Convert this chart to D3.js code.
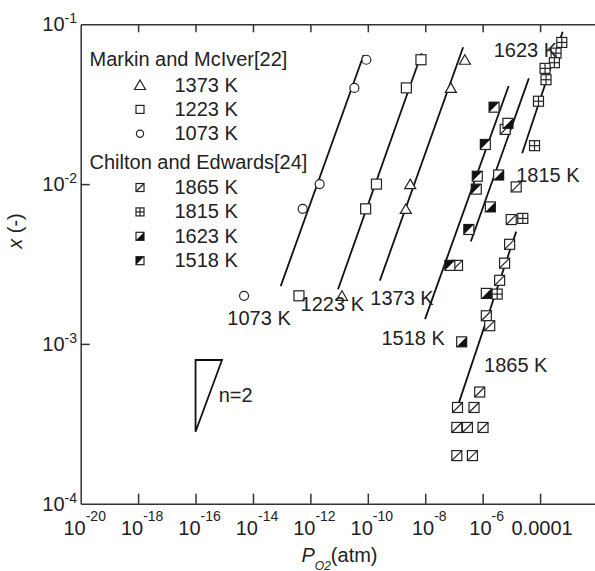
<!DOCTYPE html>
<meta charset="utf-8">
<body style="margin:0;background:#fff">
<style>
text { font-family: "Liberation Sans", Arial, sans-serif; fill: #222; }
.axis path, .axis line { stroke: #333; stroke-width: 1.5px; }
.fit { fill: none; stroke: #111; stroke-width: 1.8px; }
.mk { fill: #fff; stroke: #222; stroke-width: 1.2px; }
</style>
<script src="https://cdn.jsdelivr.net/npm/d3@7"></script>
<script>

// Markin and McIver [22]  -> [P_O2 (atm), x]
var mm1373 = [[2.4e-7, 0.06], [7.8e-8, 0.04], [3.0e-9, 0.01], [2.1e-9, 0.007], [1.26e-11, 0.002]];
var mm1223 = [[7.1e-9, 0.06], [2.2e-9, 0.04], [2.0e-10, 0.01], [8.4e-11, 0.007], [4.0e-13, 0.002]];
var mm1073 = [[8.9e-11, 0.06], [3.4e-11, 0.04], [2.1e-12, 0.01], [5.4e-13, 0.007], [4.9e-15, 0.002]];

// Chilton and Edwards [24]
var ce1865 = [[1.47e-5, 0.0096], [9.9e-6, 0.006], [8.7e-6, 0.0042], [5.8e-6, 0.0032], [3.9e-6, 0.0025],
              [1.34e-6, 0.0015], [1.76e-6, 0.0013], [7.9e-7, 0.0005], [1.33e-7, 0.0004], [5.0e-7, 0.0004],
              [1.26e-7, 0.0003], [2.95e-7, 0.0003], [1.03e-6, 0.0003], [1.26e-7, 0.0002], [4.4e-7, 0.0002],
              [1.33e-7, 0.0031], [6.1e-6, 0.022]];
var ce1815 = [[5.7e-4, 0.077], [3.6e-4, 0.066], [3.15e-4, 0.0575], [1.49e-4, 0.053], [1.61e-4, 0.045],
              [8.8e-5, 0.033], [6.4e-5, 0.0174], [2.5e-5, 0.0061], [3.2e-6, 0.00205]];
var ce1623 = [[7.6e-6, 0.024], [3.6e-6, 0.0114], [1.85e-6, 0.0072], [1.34e-6, 0.00207], [1.86e-7, 0.00103]];
var ce1518 = [[2.5e-6, 0.0303], [1.24e-6, 0.0177], [6.5e-7, 0.0112], [6.0e-7, 0.0093], [3.3e-7, 0.0052],
              [7.2e-8, 0.0031]];

// fitted lines (end points)
var fit1073 = [[9.27e-14, 2.30e-3], [7.14e-11, 0.0643]];
var fit1223 = [[9.2e-12, 2.2e-3], [7.5e-9, 0.0659]];
var fit1373 = [[2.63e-10, 2.49e-3], [2.09e-7, 0.0718]];
var fit1518 = [[9.84e-9, 1.43e-3], [8.04e-6, 0.0411]];
var fit1623 = [[3.87e-7, 4.37e-3], [4.06e-5, 0.0459]];
var fit1815 = [[2.38e-5, 0.0156], [6.12e-4, 0.0899]];
var fit1865 = [[1.17e-7, 3.77e-4], [1.47e-5, 5.04e-3]];

// line labels [text, P, x]
var lineLabels = [["1073 K", 1.28e-15, 1.31e-3], ["1223 K", 4.57e-13, 1.61e-3], ["1373 K", 1.22e-10, 1.75e-3],
                  ["1518 K", 3.0e-10, 9.84e-4], ["1865 K", 1.12e-6, 6.7e-4], ["1623 K", 2.43e-6, 0.0627],
                  ["1815 K", 1.47e-5, 0.01035]];

// slope triangle n=2
var slopeTri = [[1e-16, 7.93e-4], [8.36e-16, 7.93e-4], [1e-16, 2.82e-4]];
var slopeLabel = ["n=2", 6.37e-16, 4.35e-4];

var xTicks = [1e-20, 1e-18, 1e-16, 1e-14, 1e-12, 1e-10, 1e-8, 1e-6, 1e-4];
var yTicks = [1e-4, 1e-3, 1e-2, 1e-1];

var W = 595, H = 571;
var svg = d3.select("body").append("svg")
    .attr("width", W)
    .attr("height", H);

var x = d3.scaleLog().domain([1e-20, 1e-2]).range([80.7, 597.5]);
var y = d3.scaleLog().domain([1e-4, 1e-1]).range([503.7, 24.3]);

// axes (ticks inward)
svg.append("g").attr("class", "axis")
    .attr("transform", "translate(0," + y(1e-4) + ")")
    .call(d3.axisBottom(x).tickValues(xTicks.slice(1)).tickSize(-10).tickSizeOuter(0).tickFormat(""));
svg.append("g").attr("class", "axis")
    .attr("transform", "translate(0," + y(1e-1) + ")")
    .call(d3.axisTop(x).tickValues(xTicks.slice(1)).tickSize(-8).tickSizeOuter(0).tickFormat(""));
svg.append("g").attr("class", "axis")
    .attr("transform", "translate(" + x(1e-20) + ",0)")
    .call(d3.axisLeft(y).tickValues([1e-3, 1e-2]).tickSize(-9).tickSizeOuter(0).tickFormat(""));

function sup(sel, v) {
  if (v === 1e-4 && sel.classed("xl")) { sel.text("0.0001"); return; }
  var e = Math.round(Math.log10(v));
  sel.append("tspan").text("10");
  sel.append("tspan").attr("font-size", 14).attr("dy", sel.classed("xl") ? -14 : -8).text(e);
}

svg.selectAll(".xl").data(xTicks).enter().append("text")
    .attr("class", "xl")
    .attr("x", function(d) { return x(d) + (d === 1e-4 ? 2 : 4); })
    .attr("y", 535)
    .attr("text-anchor", "middle")
    .attr("font-size", 20)
    .each(function(d) { sup(d3.select(this), d); });

svg.selectAll(".yl").data(yTicks).enter().append("text")
    .attr("class", "yl")
    .attr("x", 77)
    .attr("y", function(d) { return y(d) + 7; })
    .attr("text-anchor", "end")
    .attr("font-size", 20)
    .each(function(d) { sup(d3.select(this), d); });

// axis titles
var xt = svg.append("text").attr("x", 301.5).attr("y", 561.5).attr("font-size", 20);
xt.append("tspan").attr("font-style", "italic").text("P");
xt.append("tspan").attr("font-style", "italic").attr("font-size", 12).attr("dy", 8).text("O2");
xt.append("tspan").attr("dy", -8).text("(atm)");

var yt = svg.append("text").attr("transform", "translate(22,231) rotate(-90)")
    .attr("text-anchor", "middle").attr("font-size", 20);
yt.append("tspan").attr("font-style", "italic").text("x");
yt.append("tspan").text(" (-)");

// fit lines
var line = d3.line().x(function(d) { return x(d[0]); }).y(function(d) { return y(d[1]); });
[fit1073, fit1223, fit1373, fit1518, fit1623, fit1815, fit1865].forEach(function(f) {
  svg.append("path").attr("class", "fit").attr("d", line(f));
});

// marker drawing
function marker(g, type, s) {
  if (type === "circle") {
    g.append("circle").attr("class", "mk").attr("r", s * 0.9);
    return;
  }
  if (type === "tri") {
    g.append("path").attr("class", "mk")
      .attr("d", "M0," + (-s) + "L" + (s * 1.1) + "," + (s * 0.9) + "L" + (-s * 1.1) + "," + (s * 0.9) + "Z");
    return;
  }
  g.append("rect").attr("class", "mk").attr("x", -s).attr("y", -s).attr("width", 2 * s).attr("height", 2 * s);
  if (type === "diag") {
    g.append("line").attr("x1", -s).attr("y1", s).attr("x2", s).attr("y2", -s).attr("stroke", "#222").attr("stroke-width", 1.2);
  } else if (type === "cross") {
    g.append("line").attr("x1", 0).attr("y1", -s).attr("x2", 0).attr("y2", s).attr("stroke", "#222").attr("stroke-width", 1.2);
    g.append("line").attr("x1", -s).attr("y1", 0).attr("x2", s).attr("y2", 0).attr("stroke", "#222").attr("stroke-width", 1.2);
  } else if (type === "lowright") {
    g.append("path").attr("d", "M" + (-s) + "," + s + "L" + s + "," + (-s) + "L" + s + "," + s + "Z").attr("fill", "#111");
  } else if (type === "upleft") {
    g.append("path").attr("d", "M" + (-s) + "," + s + "L" + s + "," + (-s) + "L" + (-s) + "," + (-s) + "Z").attr("fill", "#111");
  }
}

var series = [
  [mm1373, "tri"], [mm1223, "sq"], [mm1073, "circle"],
  [ce1865, "diag"], [ce1815, "cross"], [ce1623, "lowright"], [ce1518, "upleft"]
];
series.forEach(function(s) {
  svg.append("g").selectAll("g").data(s[0]).enter().append("g")
    .attr("transform", function(d) { return "translate(" + x(d[0]) + "," + y(d[1]) + ")"; })
    .each(function() { marker(d3.select(this), s[1], 5); });
});

// line labels
svg.selectAll(".ll").data(lineLabels).enter().append("text")
    .attr("class", "ll")
    .attr("x", function(d) { return x(d[1]); })
    .attr("y", function(d) { return y(d[2]); })
    .attr("font-size", 20)
    .text(function(d) { return d[0]; });

// slope triangle
svg.append("path").attr("class", "fit").attr("stroke-width", 1.2)
    .attr("d", line(slopeTri) + "Z");
svg.append("text").attr("x", x(slopeLabel[1])).attr("y", y(slopeLabel[2]))
    .attr("font-size", 20).text(slopeLabel[0]);

// legend
var legend = [
  {title: "Markin and McIver[22]", y: 66, rows: [["1373 K", "tri"], ["1223 K", "sq"], ["1073 K", "circle"]]},
  {title: "Chilton and Edwards[24]", y: 168.5, rows: [["1865 K", "diag"], ["1815 K", "cross"], ["1623 K", "lowright"], ["1518 K", "upleft"]]}
];
legend.forEach(function(block) {
  svg.append("text").attr("x", 89.5).attr("y", block.y).attr("font-size", 20).text(block.title);
  block.rows.forEach(function(r, i) {
    var ty = block.y + 25.5 + i * 24.4;
    var g = svg.append("g").attr("transform", "translate(140," + (ty - 6.5) + ")");
    marker(g, r[1], r[1] === "tri" ? 5 : 4);
    svg.append("text").attr("x", 174.5).attr("y", ty).attr("font-size", 20).text(r[0]);
  });
});

</script>
